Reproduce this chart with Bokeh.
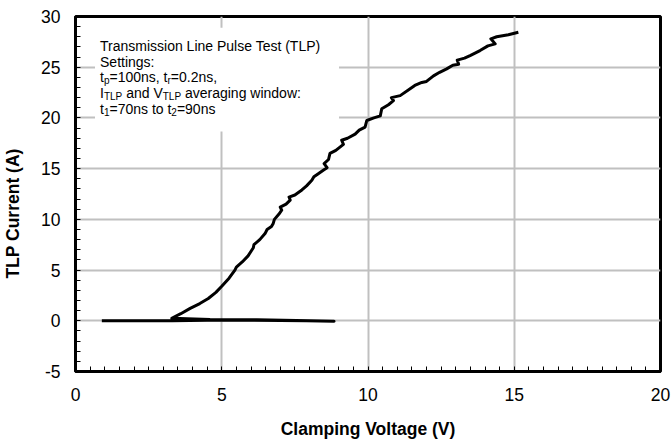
from bokeh.plotting import figure
from bokeh.models import Range1d, Label, BoxAnnotation, FixedTicker
from bokeh.embed import file_html
from bokeh.resources import INLINE

# ---- data ----
voltage = [0.9, 2.0, 3.3, 4.5, 6.0, 7.9, 8.84, 8.0, 6.2, 4.6, 3.29,
           3.6, 3.92, 4.25, 4.54, 4.8, 5.0, 5.25, 5.45, 5.5, 5.7, 5.9, 6.08, 6.1, 6.3,
           6.48, 6.55, 6.7, 6.76, 6.8, 6.95, 7.05, 7.0, 7.2, 7.34, 7.3, 7.5, 7.74,
           7.9, 8.08, 8.15, 8.3, 8.47, 8.6, 8.5, 8.65, 8.7, 8.9, 9.16, 9.1, 9.3,
           9.56, 9.7, 9.9, 9.96, 10.2, 10.42, 10.47, 10.7, 10.87, 10.8, 11.1, 11.44,
           11.6, 11.84, 12.0, 12.24, 12.45, 12.69, 12.9, 13.1, 13.05, 13.3, 13.49,
           13.83, 14.1, 14.35, 14.2, 14.4, 14.8, 15.14]
current = [0.0, 0.0, 0.0, 0.05, 0.05, 0.0, -0.05, 0.0, 0.1, 0.12, 0.25,
           0.7, 1.22, 1.7, 2.2, 2.8, 3.4, 4.2, 5.0, 5.3, 5.8, 6.4, 7.2, 7.5, 8.0,
           8.6, 9.0, 9.3, 9.6, 10.0, 10.5, 10.9, 11.2, 11.5, 11.9, 12.2, 12.4, 12.9,
           13.3, 13.85, 14.2, 14.5, 14.85, 15.1, 15.5, 15.9, 16.5, 16.8, 17.4, 17.8, 18.0,
           18.4, 18.8, 19.1, 19.75, 20.0, 20.2, 20.9, 21.3, 21.7, 22.0, 22.2, 22.87,
           23.2, 23.5, 23.6, 24.15, 24.5, 24.84, 25.2, 25.3, 25.7, 25.9, 26.15,
           26.64, 27.1, 27.3, 27.8, 28.0, 28.2, 28.44]

x_ticks = [0, 5, 10, 15, 20]
y_ticks = [-5, 0, 5, 10, 15, 20, 25, 30]
y_tick_labels = {t: str(t) for t in y_ticks}

note_lines = [
    [("Transmission Line Pulse Test (TLP)", False)],
    [("Settings:", False)],
    [("t", False), ("p", True), ("=100ns, t", False), ("r", True), ("=0.2ns,", False)],
    [("I", False), ("TLP", True), (" and V", False), ("TLP", True), (" averaging window:", False)],
    [("t", False), ("1", True), ("=70ns to t", False), ("2", True), ("=90ns", False)],
]

FONT = "Liberation Sans"

p = figure(width=671, height=441, x_range=Range1d(0, 20), y_range=Range1d(-5, 30),
           output_backend="svg", toolbar_location=None,
           min_border_left=75, min_border_right=11, min_border_top=16, min_border_bottom=70)
p.background_fill_color = "white"
p.border_fill_color = "white"
p.outline_line_color = "black"
p.outline_line_width = 3

p.xaxis.ticker = FixedTicker(ticks=x_ticks, minor_ticks=[i * 0.5 for i in range(41)])
p.yaxis.ticker = FixedTicker(ticks=y_ticks, minor_ticks=list(range(-5, 31)))
p.yaxis.major_label_overrides = y_tick_labels

for ax in (p.xaxis[0], p.yaxis[0]):
    ax.axis_line_color = "black"
    ax.axis_line_width = 3
    ax.major_tick_in = 0
    ax.major_tick_out = 0
    ax.minor_tick_in = 5
    ax.minor_tick_out = 0
    ax.minor_tick_line_color = "black"
    ax.minor_tick_line_width = 1
    ax.major_label_text_font = FONT
    ax.major_label_text_font_size = "17.5px"
    ax.major_label_text_color = "black"
    ax.axis_label_text_font = FONT
    ax.axis_label_text_font_size = "17.5px"
    ax.axis_label_text_font_style = "bold"
    ax.axis_label_text_color = "black"

p.xaxis.major_label_standoff = 16
p.xaxis.axis_label = "Clamping Voltage (V)"
p.xaxis.axis_label_standoff = 15
p.yaxis.major_label_standoff = 15
# trailing no-break spaces shift the centred title down, as in the reference
p.yaxis.axis_label = "TLP Current (A)" + "\u00a0" * 8
p.yaxis.axis_label_standoff = 15

p.xgrid.grid_line_color = "#c0c0c0"
p.ygrid.grid_line_color = "#c0c0c0"
p.xgrid.grid_line_width = 2
p.ygrid.grid_line_width = 2

# white note box
p.add_layout(BoxAnnotation(left=0.667, right=9.01, top=28.9, bottom=18.67,
                           fill_color="white", fill_alpha=1.0, line_color=None,
                           level="underlay"))

p.line(voltage, current, line_width=3, line_color="black", line_join="round")

# note text with subscripts
W = {' ': 278, '(': 333, ')': 333, ',': 278, '.': 278, ':': 278, '=': 584,
     'A': 667, 'C': 722, 'I': 278, 'L': 556, 'P': 667, 'S': 667, 'T': 611, 'V': 667,
     'a': 556, 'd': 556, 'e': 556, 'g': 556, 'i': 222, 'l': 222, 'm': 833, 'n': 556,
     'o': 556, 'p': 556, 'r': 333, 's': 500, 't': 278, 'u': 556, 'v': 500, 'w': 722}


def tw(s, size):
    return sum(W.get(c, 556) for c in s) * size / 1000.0


MAIN, SUB = 14.0, 10.0
x0, y0 = 0.838, 27.1
line_step = 15.7 / 10.16
for i, pieces in enumerate(note_lines):
    off = 0.0
    y = y0 - i * line_step
    for txt, sub in pieces:
        size = SUB if sub else MAIN
        lead = len(txt) - len(txt.lstrip(' '))
        core = txt.strip(' ')
        off_core = off + tw(' ' * lead, size)
        p.add_layout(Label(x=x0, y=y, x_offset=off_core, y_offset=(-3.5 if sub else 0),
                           text=core, text_font=FONT, text_font_size=f"{size}px",
                           text_color="black", text_baseline="alphabetic",
                           text_align="left"))
        off += tw(txt, size)

open("out.html", "w").write(file_html(p, INLINE))
